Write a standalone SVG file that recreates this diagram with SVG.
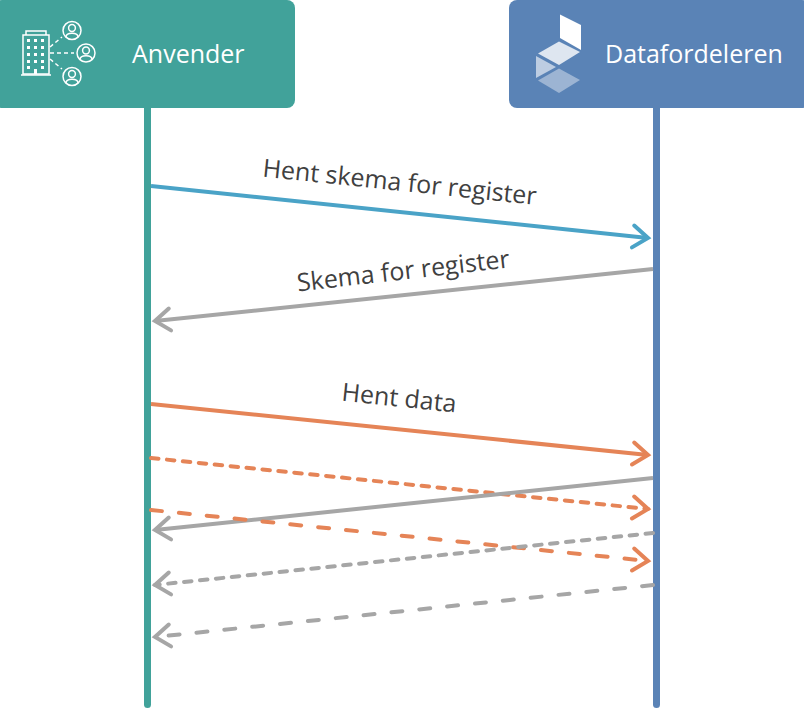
<svg xmlns="http://www.w3.org/2000/svg" width="804" height="709" viewBox="0 0 804 709">
<style>
text{font-family:"Open Sans","Noto Sans","Liberation Sans",sans-serif}
.hd{font-size:25px;fill:#fff}
.lb{font-size:25px;fill:#404040}
.life{stroke-width:7;stroke-linecap:round;fill:none}
.msg{fill:none;stroke-width:4}
.blue{stroke:#4AA3C7}.gray{stroke:#A6A6A6}.org{stroke:#E58457}
.dot{stroke-dasharray:7.500 8.500;stroke-linecap:round}
.dash{stroke-dasharray:11 17;stroke-linecap:round}
.ic{fill:none;stroke:#fff;stroke-width:1.5}
.icd{fill:none;stroke:#fff;stroke-width:1.5;stroke-dasharray:4 3}
</style>
<defs>
<marker id="ab" markerUnits="userSpaceOnUse" markerWidth="24" markerHeight="30" refX="20" refY="15" orient="auto"><path d="M5 4L20 15L5 26" fill="none" stroke="#4AA3C7" stroke-width="4" stroke-linecap="round"/></marker>
<marker id="ag" markerUnits="userSpaceOnUse" markerWidth="24" markerHeight="30" refX="20" refY="15" orient="auto"><path d="M5 4L20 15L5 26" fill="none" stroke="#A6A6A6" stroke-width="4" stroke-linecap="round"/></marker>
<marker id="ao" markerUnits="userSpaceOnUse" markerWidth="24" markerHeight="30" refX="20" refY="15" orient="auto"><path d="M5 4L20 15L5 26" fill="none" stroke="#E58457" stroke-width="4" stroke-linecap="round"/></marker>
<g id="person"><circle r="9" class="ic"/><circle cy="-2.500" r="3.400" class="ic"/><path class="ic" d="M-6 6.500C-6 1.500 6 1.500 6 6.500"/></g>
</defs>
<g id="connectors">
<path class="life" stroke="#41A29A" d="M147.500 105V704.500"/>
<path class="life" stroke="#5A83B6" d="M656.500 105V704.500"/>
<path class="msg blue" marker-end="url(#ab)" d="M151 186L648 238"/>
<path class="msg gray" marker-end="url(#ag)" d="M653 269L155 321"/>
<path class="msg org" marker-end="url(#ao)" d="M151 404L648 455"/>
<path class="msg org dot" marker-end="url(#ao)" d="M151 458L648 509"/>
<path class="msg gray" marker-end="url(#ag)" d="M653 478L155 530"/>
<path class="msg org dash" marker-end="url(#ao)" d="M151 510L648 561"/>
<path class="msg gray dot" marker-end="url(#ag)" d="M653 533L155 585"/>
<path class="msg gray dash" marker-end="url(#ag)" d="M653 585L155 637"/>
</g>
<g id="anvender">
<rect x="-6" y="0" width="301" height="108" rx="8" fill="#41A29A"/>
<path class="ic" d="M23 35H49V74H23ZM26 35V31H46V35"/>
<path class="ic" d="M21 75H51"/>
<path d="M27 39h3v3h-3zM34 39h3v3h-3zM41 39h3v3h-3zM27 46h3v3h-3zM34 46h3v3h-3zM41 46h3v3h-3zM27 53h3v3h-3zM34 53h3v3h-3zM41 53h3v3h-3zM27 60h3v3h-3zM34 60h3v3h-3zM41 60h3v3h-3zM27 66h3v3h-3zM41 66h3v3h-3zM34 69h3v5h-3z" fill="#fff"/>
<path class="icd" d="M50 47L62 37M50 53H74M50 59L62 69"/>
<use href="#person" x="72" y="30.500"/>
<use href="#person" x="86" y="53"/>
<use href="#person" x="72" y="76.500"/>
<text class="hd" x="132" y="63">Anvender</text>
</g>
<g id="datafordeleren">
<rect x="509" y="0" width="301" height="108" rx="8" fill="#5A83B6"/>
<path d="M560 14.500L581 25V50L560 38Z" fill="#fff"/>
<path d="M559 41.500L580 52L559 65L538 53.500Z" fill="#fff" fill-opacity=".8"/>
<path d="M536 56L556 67L536 78Z" fill="#fff" fill-opacity=".6"/>
<path d="M559 68.500L580 80L559 93L538 80.500Z" fill="#fff" fill-opacity=".4"/>
<text class="hd" x="605" y="63">Datafordeleren</text>
</g>
<g id="labels">
<text class="lb" transform="translate(262 176.500) rotate(5.900)">Hent skema for register</text>
<text class="lb" transform="translate(298 291.500) rotate(-6.500)">Skema for register</text>
<text class="lb" transform="translate(341 400.500) rotate(6)">Hent data</text>
</g>
</svg>
